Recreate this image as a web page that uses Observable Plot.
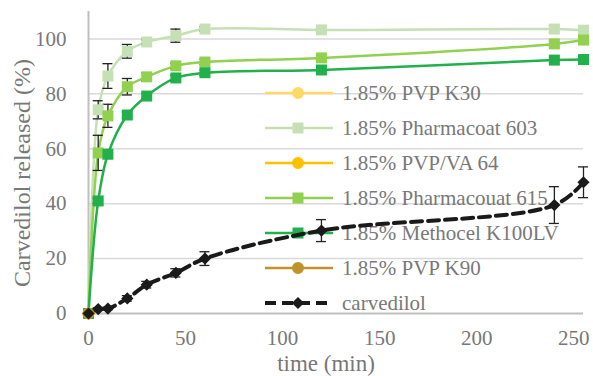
<!DOCTYPE html>
<html><head><meta charset="utf-8">
<script src="https://cdn.jsdelivr.net/npm/d3@7"></script>
<script src="https://cdn.jsdelivr.net/npm/@observablehq/plot@0.6"></script>
<style>body{margin:0;background:#fff} svg{display:block} svg text{font-family:"Liberation Serif","Times New Roman",serif !important;}</style>
</head><body><div id="chart"></div>
<script>
// ---- data ----
const times = [0, 5, 10, 20, 30, 45, 60, 120, 240, 255];
const timesZero = [0];

const pvpK30 = [0];
const pharmacoat603 = [0, 74.2, 86.5, 95.5, 98.9, 101.2, 103.6, 103.3, 103.6, 103.2];
const pharmacoat603Err = [0, 3.3, 4.5, 2.5, 0.8, 2.4, 0.8, 0.5, 1.2, 0.5];
const pvpva64 = [0];
const pharmacoat615 = [0, 58.5, 72, 82.6, 86.2, 90.2, 91.6, 93.1, 98.2, 99.6];
const pharmacoat615Err = [0, 6.4, 4.2, 3, 1.5, 1, 1, 0.8, 1, 0.5];
const methocel = [0, 41, 58, 72.3, 79.2, 85.8, 87.7, 88.7, 92.3, 92.5];
const methocelErr = [0, 1, 1, 1, 0.8, 1, 1, 1.2, 1, 0.8];
const pvpK90 = [0];
const carvedilol = [0, 1.6, 1.8, 5.5, 10.5, 14.8, 20, 30.2, 39.5, 47.8];
const carvedilolErr = [0, 0.5, 0.5, 1, 1.2, 1.5, 2.5, 4, 6.7, 5.6];

const seriesNames = ["1.85% PVP K30", "1.85% Pharmacoat 603", "1.85% PVP/VA 64",
  "1.85% Pharmacouat 615", "1.85% Methocel K100LV", "1.85% PVP K90", "carvedilol"];
const seriesColors = ["#FFD966", "#C5E0B4", "#FFC000", "#92D050", "#21B04B", "#C0922A", "#1a1a1a"];
const seriesSymbols = ["circle", "square", "circle", "square", "square", "circle", "diamond2"];
const seriesValues = [pvpK30, pharmacoat603, pvpva64, pharmacoat615, methocel, pvpK90, carvedilol];
const seriesTimes = [timesZero, times, timesZero, times, times, timesZero, times];
const seriesErrors = [null, pharmacoat603Err, null, pharmacoat615Err, methocelErr, null, carvedilolErr];

const yTicks = [0, 20, 40, 60, 80, 100];
const xTicks = [0, 50, 100, 150, 200, 250];

// ---- build tables ----
const tables = seriesNames.map((name, i) =>
  seriesValues[i].map((v, j) => ({series: name, t: seriesTimes[i][j], v, e: seriesErrors[i] ? seriesErrors[i][j] : 0})));

const GRAY = "#787878";

function legend() {
  const g = d3.create("svg:g");
  seriesNames.forEach((name, i) => {
    const y = 93 + 35 * i;
    const dashed = i === 6;
    g.append("line").attr("x1", 265).attr("x2", 333).attr("y1", y).attr("y2", y)
      .attr("stroke", seriesColors[i]).attr("stroke-width", dashed ? 4 : 2.5)
      .attr("stroke-dasharray", dashed ? "11,6" : null);
    const sym = {circle: d3.symbolCircle, square: d3.symbolSquare, diamond2: d3.symbolDiamond2}[seriesSymbols[i]];
    const size = seriesSymbols[i] === "diamond2" ? 95 : seriesSymbols[i] === "circle" ? 113 : 121;
    g.append("path").attr("transform", `translate(298,${y})`).attr("d", d3.symbol(sym, size)())
      .attr("fill", seriesColors[i]);
    g.append("text").attr("x", 342).attr("y", y).attr("dy", "0.35em").attr("text-anchor", "start")
      .attr("font-size", 21).attr("fill", GRAY).text(name);
  });
  return g.node();
}

const marks = [
  Plot.gridY(yTicks.filter(d => d > 0), {stroke: "#d9d9d9", strokeOpacity: 1, strokeWidth: 1.5}),
  Plot.ruleY([0], {stroke: "#bfbfbf", strokeWidth: 2}),
  Plot.ruleX([0], {stroke: "#bfbfbf", strokeWidth: 2}),
  Plot.axisY(yTicks, {tickSize: 0, tickPadding: 22, fontSize: 21, fill: GRAY, label: null}),
  Plot.axisX(xTicks, {tickSize: 0, tickPadding: 17, fontSize: 21, fill: GRAY, label: null}),
  legend
];

tables.forEach((tb, i) => {
  const dashed = i === 6;
  if (tb.length > 1) {
    marks.push(Plot.line(tb, {x: "t", y: "v", stroke: seriesColors[i], strokeWidth: dashed ? 4 : 2.5,
      strokeDasharray: dashed ? "11,6" : null, curve: "catmull-rom"}));
    const eb = tb.filter(d => d.e > 0);
    marks.push(Plot.ruleX(eb, {x: "t", y1: d => d.v - d.e, y2: d => d.v + d.e, stroke: "#222", strokeWidth: 1.3}));
    marks.push(Plot.ruleY(eb, {y: d => d.v - d.e, x1: "t", x2: "t", insetLeft: -5, insetRight: -5, stroke: "#222", strokeWidth: 1.3}));
    marks.push(Plot.ruleY(eb, {y: d => d.v + d.e, x1: "t", x2: "t", insetLeft: -5, insetRight: -5, stroke: "#222", strokeWidth: 1.3}));
  }
});
tables.forEach((tb, i) => {
  const s = seriesSymbols[i];
  marks.push(Plot.dot(tb, {x: "t", y: "v", symbol: s, fill: seriesColors[i], stroke: "none",
    r: s === "diamond2" ? 5.5 : s === "circle" ? 6 : 6.2}));
});

const chart = Plot.plot({
  width: 593, height: 376,
  marginLeft: 88, marginRight: 10, marginTop: 11, marginBottom: 63,
  x: {domain: [0, 255]},
  y: {domain: [0, 110]},
  style: {background: "#fff"},
  marks
});

const svg = d3.select(chart);
svg.append("text").attr("x", 326).attr("y", 371).attr("text-anchor", "middle")
  .attr("font-size", 23).attr("fill", GRAY).text("time (min)");
svg.append("text").attr("transform", "translate(30,173) rotate(-90)").attr("text-anchor", "middle")
  .attr("font-size", 24).attr("fill", GRAY).text("Carvedilol released (%)");

document.getElementById("chart").appendChild(chart);
</script></body></html>
